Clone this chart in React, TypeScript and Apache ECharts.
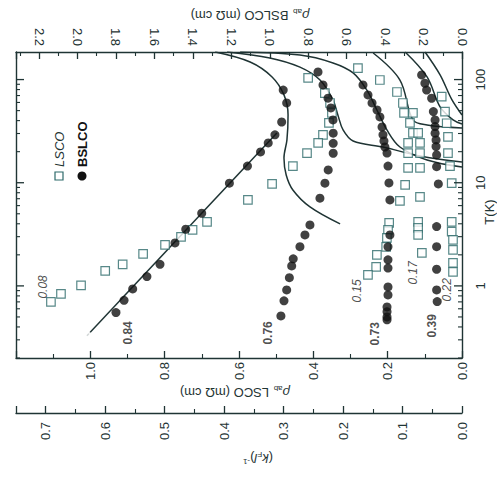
import React, { useEffect, useRef } from "react";
import * as echarts from "echarts";

// ---- data: [T (K), rho_ab (mOhm cm)] ----
// LSCO (open squares, bottom axis)
const lsco008 = [[104,0.414],[74,0.369],[59.3,0.355],[47.5,0.350],[38,0.358],[29.1,0.374],[24.3,0.387],[19.4,0.417],[14.5,0.455],[9.73,0.511],[6.81,0.576],[4.17,0.686],[3.49,0.725],[2.98,0.756],[2.5,0.799],[2.04,0.858],[1.62,0.913],[1.4,0.96],[1.01,1.025],[0.836,1.079],[0.7,1.106]];
const lsco015 = [[129,0.280],[99,0.221],[75.8,0.175],[59.3,0.159],[47.5,0.156],[38,0.140],[30.4,0.132],[24.3,0.145],[19.4,0.145],[13.9,0.145],[9.52,0.153],[6.66,0.167],[4.08,0.196],[3.49,0.199],[2.92,0.202],[2.39,0.204],[2.0,0.229],[1.53,0.231],[1.28,0.253]];
const lsco017 = [[47.5,0.132],[30.4,0.118],[24.3,0.113],[19.4,0.113],[13.9,0.113],[7.28,0.113],[4.17,0.118],[3.65,0.118],[3.12,0.118],[2.09,0.108]];
const lsco022 = [[68.3,0.0546],[48.9,0.0457],[37.7,0.0412],[27.8,0.0377],[19.4,0.0377],[14.5,0.0323],[9.9,0.0277],[4.17,0.0277],[3.36,0.0277],[2.79,0.0242],[2.23,0.0242],[1.67,0.0242],[1.37,0.0242]];

// BSLCO (filled circles, top axis)
const bslco084 = [[79,0.930],[59.3,0.912],[38.8,0.938],[29.1,0.973],[24.3,1.008],[19.9,1.048],[14.5,1.116],[9.9,1.210],[5.06,1.354],[3.54,1.437],[2.61,1.493],[1.62,1.571],[1.23,1.639],[0.935,1.713],[0.724,1.758],[0.551,1.800]];
const bslco076 = [[118.5,0.749],[88.7,0.723],[66,0.697],[53.1,0.682],[40.6,0.671],[30.2,0.670],[24.1,0.670],[19.3,0.670],[13.3,0.696],[9.9,0.713],[7.08,0.739],[3.9,0.791],[3.12,0.817],[2.4,0.843],[1.83,0.878],[1.56,0.886],[1.2,0.898],[0.914,0.912],[0.716,0.926],[0.512,0.942]];
const bslco073 = [[88.7,0.515],[71,0.489],[59.3,0.468],[50.7,0.442],[43.4,0.427],[34.7,0.416],[29.1,0.411],[25.4,0.406],[22.2,0.401],[19.4,0.390],[14.5,0.385],[9.96,0.380],[6.81,0.375],[3.12,0.375],[2.39,0.385],[1.79,0.385],[1.49,0.385],[0.978,0.385],[0.818,0.385],[0.626,0.390],[0.56,0.390],[0.5,0.390],[0.469,0.390]];
const bslco039 = [[111,0.210],[92.1,0.193],[79,0.184],[65.9,0.158],[48.9,0.149],[40.6,0.140],[35,0.140],[30.2,0.140],[26,0.135],[22.4,0.135],[18.6,0.132],[14.3,0.132],[9.73,0.123],[3.76,0.132],[2.4,0.132],[1.45,0.132],[0.914,0.132],[0.705,0.129]];
const bslcoFit084 = [[0.328,1.951],[30.4,0.963]];

// solid curves (LSCO scale)
const curveA = [[185,0.664],[148,0.570],[106,0.511],[71,0.479],[45.4,0.468],[26,0.471],[17.4,0.479],[11.9,0.473],[8.51,0.455],[5.83,0.409],[3.99,0.328]];
const curveB = [[185,0.632],[162,0.517],[132,0.436],[99,0.382],[63.4,0.347],[45.4,0.334],[32.5,0.320],[25.4,0.293],[22.2,0.2125],[18.2,0.113],[15.9,0]];
const curveC = [[185,0.597],[173,0.436],[145,0.347],[116,0.293],[79,0.256],[50.7,0.229],[32.5,0.202],[22.2,0.167],[16.6,0.094],[14.2,0]];
const curveD = [[181,0.239],[99,0.167],[40.6,0.132],[36.3,0.094],[34,0]];
const curveE = [[185,0.153],[106,0.094],[54.3,0.059],[40.6,0.024],[37.1,0]];
const curveF = [[185,0.0995],[111,0.059],[63.4,0.0269],[45.4,0]];

// axis tick values
const tMajor = [1, 10, 100];
const tMinor = [0.2,0.3,0.4,0.5,0.6,0.7,0.8,0.9,2,3,4,5,6,7,8,9,20,30,40,50,60,70,80,90];

// doping labels: [text, T, rho(LSCO scale), style]
const dopingLabels: [string, number, number, string][] = [
  ["0.08", 0.978, 1.127, "italic"],
  ["0.84", 0.35, 0.898, "bold"],
  ["0.76", 0.35, 0.522, "bold"],
  ["0.15", 0.894, 0.282, "italic"],
  ["0.73", 0.343, 0.234, "bold"],
  ["0.17", 1.337, 0.132, "italic"],
  ["0.39", 0.41, 0.0807, "bold"],
  ["0.22", 0.915, 0.0404, "italic"],
];

const FONT = '"Liberation Sans", Arial, Helvetica, sans-serif';
const INK = "#1f3434";
const SQ = "#2d6a6a";

const flip = (arr: number[][]) => arr.map(([t, r]) => [r, t]);

export default function App() {
  const ref = useRef<HTMLDivElement>(null);
  useEffect(() => {
    document.body.style.margin = "0";
    const chart = echarts.init(ref.current!, null, { renderer: "svg" });

    const xBase = (max: number, interval: number, pos: string, offset: number, margin: number) => ({
      type: "value",
      min: 0,
      max,
      interval,
      inverse: true,
      position: pos,
      offset,
      axisLine: { show: true, onZero: false, lineStyle: { color: INK, width: 1.4 } },
      axisTick: { show: true, inside: true, length: 7, lineStyle: { color: INK, width: 1.3 } },
      minorTick: { show: true, splitNumber: 2, length: 4, lineStyle: { color: INK, width: 1.1 } },
      axisLabel: {
        rotate: 90, margin, fontSize: 13, color: INK, fontFamily: FONT,
        showMaxLabel: false,
        formatter: (v: number) => v.toFixed(1),
      },
      splitLine: { show: false },
      minorSplitLine: { show: false },
    });

    const yBase = (pos: string, labels: boolean) => ({
      type: "log",
      logBase: 10,
      min: 0.2,
      max: 185,
      position: pos,
      axisLine: { show: true, onZero: false, lineStyle: { color: INK, width: 1.4 } },
      axisTick: { show: false },
      axisLabel: {
        show: labels, rotate: 90, margin: 12, fontSize: 13, color: INK, fontFamily: FONT,
        showMinLabel: false, showMaxLabel: false,
      },
      splitLine: { show: false },
    });

    const sq = (name: string, d: number[][]) => ({
      type: "scatter", name, xAxisIndex: 0, yAxisIndex: 0, data: flip(d),
      symbol: "rect", symbolSize: 8.5, z: 4,
      itemStyle: { color: "#ffffff", borderColor: SQ, borderWidth: 1.2 },
    });
    const dot = (name: string, d: number[][]) => ({
      type: "scatter", name, xAxisIndex: 1, yAxisIndex: 0, data: flip(d),
      symbol: "circle", symbolSize: 9, z: 5,
      itemStyle: { color: "#111111" },
    });
    const curve = (d: number[][], axis = 0) => ({
      type: "line", xAxisIndex: axis, yAxisIndex: 0, data: flip(d),
      showSymbol: false, smooth: 0.35, z: 3,
      lineStyle: { color: INK, width: 1.5 },
    });

    const tickData = [...tMajor.map((v) => [0, v, 1]), ...tMinor.map((v) => [0, v, 0])];

    const option: any = {
      animation: false,
      backgroundColor: "#ffffff",
      grid: { left: 16, right: 35, top: 52, bottom: 119, containLabel: false, outerBoundsMode: "none" },
      xAxis: [
        xBase(1.2, 0.2, "bottom", 0, 4),
        xBase(2.32, 0.2, "top", 0, 6),
        xBase(0.75, 0.1, "bottom", 55, 9),
      ],
      yAxis: [yBase("right", true), yBase("left", false)],
      series: [
        curve(curveA), curve(curveB), curve(curveC), curve(curveD), curve(curveE), curve(curveF),
        curve(bslcoFit084, 1),
        {
          type: "scatter", xAxisIndex: 1, yAxisIndex: 0, data: flip([bslcoFit084[0]]),
          symbol: "emptyCircle", symbolSize: 8, z: 6,
          itemStyle: { color: "#fff", borderColor: INK, borderWidth: 1 },
        },
        sq("LSCO 0.08", lsco008), sq("LSCO 0.15", lsco015), sq("LSCO 0.17", lsco017), sq("LSCO 0.22", lsco022),
        dot("BSLCO 0.84", bslco084), dot("BSLCO 0.76", bslco076), dot("BSLCO 0.73", bslco073), dot("BSLCO 0.39", bslco039),
        {
          type: "scatter", xAxisIndex: 0, yAxisIndex: 0, symbolSize: 0, z: 7,
          data: dopingLabels.map(([t, T, r, st]) => ({
            value: [r, T],
            label: {
              show: true, position: "inside", formatter: t, rotate: 90, fontSize: 12,
              fontFamily: FONT, color: "#222",
              fontStyle: st === "italic" ? "italic" : "normal",
              fontWeight: st === "bold" ? "bold" : "normal",
            },
          })),
        },
        {
          type: "custom", xAxisIndex: 0, yAxisIndex: 0, data: tickData, z: 8, clip: false,
          renderItem: (params: any, api: any) => {
            const v = api.value(1);
            const major = api.value(2) === 1;
            const len = major ? 8 : 4;
            const r = api.coord([0, v]);
            const l = api.coord([1.2, v]);
            const st = { stroke: INK, lineWidth: major ? 1.3 : 1.1 };
            return {
              type: "group",
              children: [
                { type: "line", shape: { x1: r[0], y1: r[1], x2: r[0] - len, y2: r[1] }, style: st },
                { type: "line", shape: { x1: l[0], y1: l[1], x2: l[0] + len, y2: l[1] }, style: st },
              ],
            };
          },
        },
      ],
      graphic: [
        {
          type: "text", x: 235, y: 392, rotation: Math.PI,
          style: {
            text: "{i|ρ}{s|ab} LSCO (mΩ cm)", fill: INK, font: `13px ${FONT}`,
            align: "center", verticalAlign: "middle",
            rich: { i: { fontStyle: "italic", fontSize: 13, fontFamily: FONT, fill: INK }, s: { fontSize: 8, fontFamily: FONT, padding: [7, 1, 0, 0], fill: INK } },
          },
        },
        {
          type: "text", x: 250, y: 15, rotation: Math.PI,
          style: {
            text: "{i|ρ}{s|ab} BSLCO (mΩ cm)", fill: INK, font: `13px ${FONT}`,
            align: "center", verticalAlign: "middle",
            rich: { i: { fontStyle: "italic", fontSize: 13, fontFamily: FONT, fill: INK }, s: { fontSize: 8, fontFamily: FONT, padding: [7, 1, 0, 0], fill: INK } },
          },
        },
        {
          type: "text", x: 258, y: 458, rotation: Math.PI,
          style: {
            text: "({i|k}{s|F}{i|l}){p|-1}", fill: INK, font: `13px ${FONT}`,
            align: "center", verticalAlign: "middle",
            rich: {
              i: { fontStyle: "italic", fontSize: 13, fontFamily: FONT, fill: INK },
              s: { fontSize: 8, fontFamily: FONT, padding: [7, 0, 0, 0], fill: INK },
              p: { fontSize: 8, fontFamily: FONT, padding: [0, 0, 7, 0], fill: INK },
            },
          },
        },
        {
          type: "text", x: 489, y: 212, rotation: Math.PI / 2,
          style: { text: "T(K)", fill: INK, font: `13px ${FONT}`, align: "center", verticalAlign: "middle" },
        },
        { type: "rect", x: 55, y: 172, shape: { x: 0, y: 0, width: 8, height: 8 }, style: { fill: "#fff", stroke: SQ, lineWidth: 1.2 } },
        { type: "circle", x: 82, y: 176, shape: { cx: 0, cy: 0, r: 4.5 }, style: { fill: "#111" } },
        {
          type: "text", x: 59, y: 167, rotation: Math.PI / 2,
          style: { text: "LSCO", fill: INK, font: `italic 13px ${FONT}`, align: "left", verticalAlign: "middle" },
        },
        {
          type: "text", x: 82, y: 167, rotation: Math.PI / 2,
          style: { text: "BSLCO", fill: "#111", font: `bold 13px ${FONT}`, align: "left", verticalAlign: "middle" },
        },
      ],
    };
    chart.setOption(option);
    return () => chart.dispose();
  }, []);
  return <div ref={ref} style={{ width: 497, height: 477 }} />;
}
